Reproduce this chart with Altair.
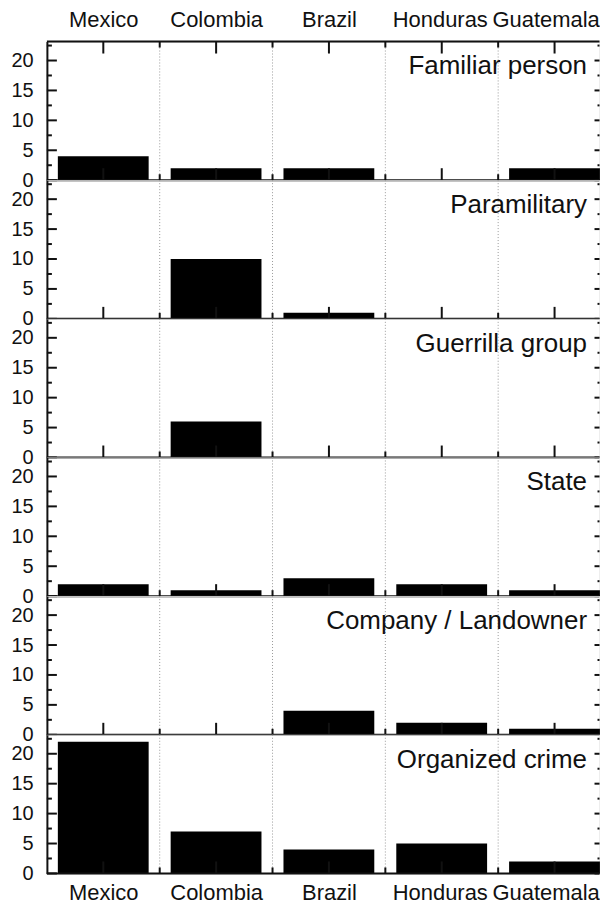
import json
import altair as alt
import pandas as pd

countries = ["Mexico", "Colombia", "Brazil", "Honduras", "Guatemala"]
actors = ["Familiar person", "Paramilitary", "Guerrilla group", "State",
          "Company / Landowner", "Organized crime"]
familiar = [4, 2, 2, 0, 2]
paramilitary = [0, 10, 1, 0, 0]
guerrilla = [0, 6, 0, 0, 0]
state = [2, 1, 3, 2, 1]
company = [0, 0, 4, 2, 1]
organized = [22, 7, 4, 5, 2]
series = [familiar, paramilitary, guerrilla, state, company, organized]
major_ticks = [0, 5, 10, 15, 20]
minor_ticks = [2.5, 7.5, 12.5, 17.5, 22.5]
y_max = 23.17

W, H = 554, 139
STEP = 113.1                 # pixel width of one country band
x_max = W / STEP             # the last band is cut by the right edge
FONT = "Liberation Sans"
INK = "#111111"
idx = list(range(len(countries)))
label_expr = json.dumps(countries) + "[floor(datum.value)]"
label_shift = {"condition": [{"test": "datum.value > 4", "value": -9},
                             {"test": "datum.value > 3", "value": -2}],
               "value": 0}


def panel(i):
    df = pd.DataFrame({"country": countries, "idx": idx, "count": series[i]})
    name_df = pd.DataFrame({"actor": [actors[i]]})
    major_df = pd.DataFrame({"v": major_ticks})
    minor_df = pd.DataFrame({"v": minor_ticks})
    first = i == 0
    last = i == len(actors) - 1

    common = dict(values=[k + 0.5 for k in idx], labelExpr=label_expr,
                  labelOffset=label_shift,
                  domain=False, ticks=False, tickSize=0, grid=False, title=None,
                  labelAngle=0, labelFont=FONT, labelFontSize=22, labelColor=INK,
                  labelBaseline="alphabetic", labelFlush=False)
    if first:
        xaxis = alt.Axis(orient="top", labelPadding=15.5, **common)
    elif last:
        xaxis = alt.Axis(orient="bottom", labelPadding=26.5, **common)
    else:
        xaxis = None

    xscale = alt.Scale(domain=[0, x_max], nice=False, zero=False)
    yscale = alt.Scale(domain=[0, y_max], nice=False, zero=True)
    yaxis = alt.Axis(values=major_ticks, ticks=False, tickSize=0, labelPadding=13.8,
                     domainWidth=2, domainColor=INK, grid=False, title=None,
                     labelFontSize=20, labelFont=FONT, labelColor=INK)

    def X(field):
        return alt.X(field, scale=xscale, axis=xaxis)

    def Y(field):
        return alt.Y(field, scale=yscale, axis=yaxis)

    base = alt.Chart(df).transform_calculate(
        left="datum.idx + 0.097", right="datum.idx + 0.902", mid="datum.idx + 0.5")
    inner = base.transform_filter(alt.datum.idx > 0)

    grid = inner.mark_rule(color="#9a9a9a", strokeDash=[1, 2], strokeWidth=1).encode(
        x=X("idx:Q"), y=alt.value(0), y2=alt.value(H))

    bars = base.transform_filter(alt.datum.count > 0).mark_bar(color="#000000").encode(
        x=X("left:Q"), x2="right:Q", y=Y("count:Q"), y2=alt.datum(0))

    layers = [grid, bars]

    # bottom x ticks (inward)
    layers.append(base.mark_rule(color=INK, strokeWidth=2).encode(
        x=X("mid:Q"), y=alt.value(H - 12), y2=alt.value(H)))
    layers.append(inner.mark_rule(color=INK, strokeWidth=2).encode(
        x=X("idx:Q"), y=alt.value(H - 6), y2=alt.value(H)))
    if first:
        layers.append(base.mark_rule(color=INK, strokeWidth=2).encode(
            x=X("mid:Q"), y=alt.value(0), y2=alt.value(12)))
        layers.append(inner.mark_rule(color=INK, strokeWidth=2).encode(
            x=X("idx:Q"), y=alt.value(0), y2=alt.value(6)))

    # y ticks (inward) left and right
    layers.append(alt.Chart(major_df).mark_rule(color=INK, strokeWidth=2).encode(
        y=Y("v:Q"), x=alt.value(0), x2=alt.value(10)))
    layers.append(alt.Chart(minor_df).mark_rule(color=INK, strokeWidth=2).encode(
        y=Y("v:Q"), x=alt.value(0), x2=alt.value(5)))
    layers.append(alt.Chart(major_df).mark_rule(color=INK, strokeWidth=2).encode(
        y=Y("v:Q"), x=alt.value(W - 5), x2=alt.value(W)))
    layers.append(alt.Chart(minor_df).mark_rule(color=INK, strokeWidth=2).encode(
        y=Y("v:Q"), x=alt.value(W - 2), x2=alt.value(W)))

    # frame lines
    layers.append(alt.Chart(name_df).mark_rule(color=INK, strokeWidth=2).encode(
        x=alt.value(0), x2=alt.value(W), y=alt.value(H)))
    if first:
        layers.append(alt.Chart(name_df).mark_rule(color=INK, strokeWidth=2).encode(
            x=alt.value(0), x2=alt.value(W), y=alt.value(0)))

    # panel title
    layers.append(alt.Chart(name_df).mark_text(
        align="right", baseline="alphabetic", fontSize=26, font=FONT, color=INK
    ).encode(text="actor:N", x=alt.value(541.5), y=alt.value(33)))

    return alt.layer(*layers).properties(width=W, height=H)


chart = alt.vconcat(*[panel(i) for i in range(len(actors))], spacing=0, bounds="flush").properties(
    padding={"left": 2, "top": -1.5, "right": -1.5, "bottom": -4}
).configure_view(strokeWidth=0).configure(background="white")

chart.save("out.html", embed_options={"renderer": "svg", "actions": False})
